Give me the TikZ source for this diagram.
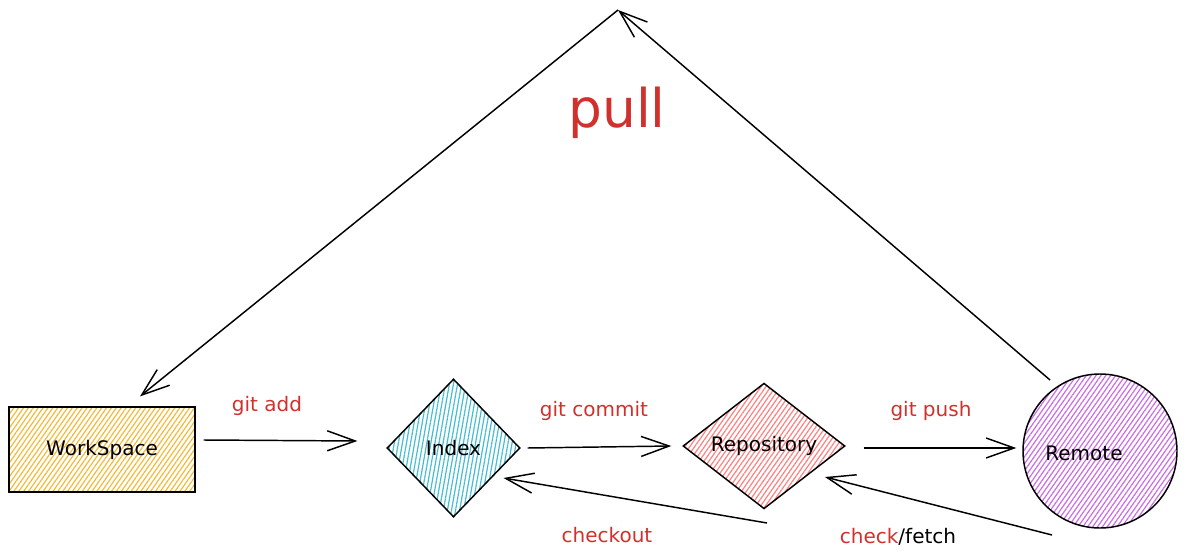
\documentclass[tikz,border=0pt]{standalone}
\usepackage{fontspec}
\setmainfont{DejaVu Sans}
\usetikzlibrary{shapes.geometric,arrows.meta,patterns.meta}
\definecolor{lblred}{HTML}{D0312D}
\definecolor{wsline}{HTML}{F5B93A}
\definecolor{idxline}{HTML}{45BCD2}
\definecolor{repline}{HTML}{FF8080}
\definecolor{remline}{HTML}{C96CE6}
\tikzset{
  shapebox/.style={draw=black, line width=1.1pt, font=\fontsize{15}{17}\selectfont, inner sep=0pt},
  hatch/.style={pattern={Lines[angle=#1,distance=3pt,line width=0.9pt]}},
  arr/.style={draw=black, line width=1.1pt, -{Straight Barb[length=21pt,width=15pt]}},
  lbl/.style={text=lblred, font=\fontsize{15}{17}\selectfont, inner sep=0pt},
  blk/.style={text=black, font=\fontsize{15}{17}\selectfont, inner sep=0pt}
}
\begin{document}
\begin{tikzpicture}[x=0.75pt,y=-0.75pt]
\useasboundingbox (0,0) rectangle (1186,560);

\node[shapebox, rectangle, minimum width=139.5pt, minimum height=63.75pt,
      hatch=55, pattern color=wsline] (ws) at (102,449.5) {WorkSpace};
\node[shapebox, diamond, minimum width=99.75pt, minimum height=103.5pt,
      hatch=80, pattern color=idxline] (idx) at (453.5,448) {Index};
\node[shapebox, diamond, minimum width=121.5pt, minimum height=93pt,
      hatch=55, pattern color=repline] (rep) at (764,446) {Repository};
\node[shapebox, circle, minimum size=115.5pt,
      hatch=55, pattern color=remline] (rem) at (1100,451) {};
\node[blk] (remtxt) at (1084,453) {Remote};

\coordinate (apex) at (618,10);

\draw[arr] ([shift={(8,-9.5)}]ws.east) -- ([shift={(-29,-7)}]idx.west);
\draw[arr] ([shift={(7,0)}]idx.east) -- ([shift={(-11,0)}]rep.west);
\draw[arr] ([shift={(18,2)}]rep.east) -- ([shift={(-6,-3)}]rem.west);
\draw[arr] ([shift={(3,77)}]rep.center) -- ([shift={(50,30)}]idx.center);
\draw[arr] ([shift={(-48,84)}]rem.center) -- ([shift={(61,31)}]rep.center);
\draw[arr] ([shift={(-50,-71)}]rem.center) -- (apex);
\draw[arr] (apex) -- ([shift={(38,-10)}]ws.north);

\node[lbl] (ladd) at (267,406) {git add};
\node[lbl] (lcommit) at (594,411) {git commit};
\node[lbl] (lpush) at (931,411) {git push};
\node[lbl] (lcheckout) at (607,535) {checkout};
\node[blk] (lfetch) at (898,537) {\textcolor{lblred}{check}/fetch};
\node[text=lblred, font=\fontsize{40}{42}\selectfont, inner sep=0pt] (lpull) at (617,113) {pull};
\end{tikzpicture}
\end{document}
